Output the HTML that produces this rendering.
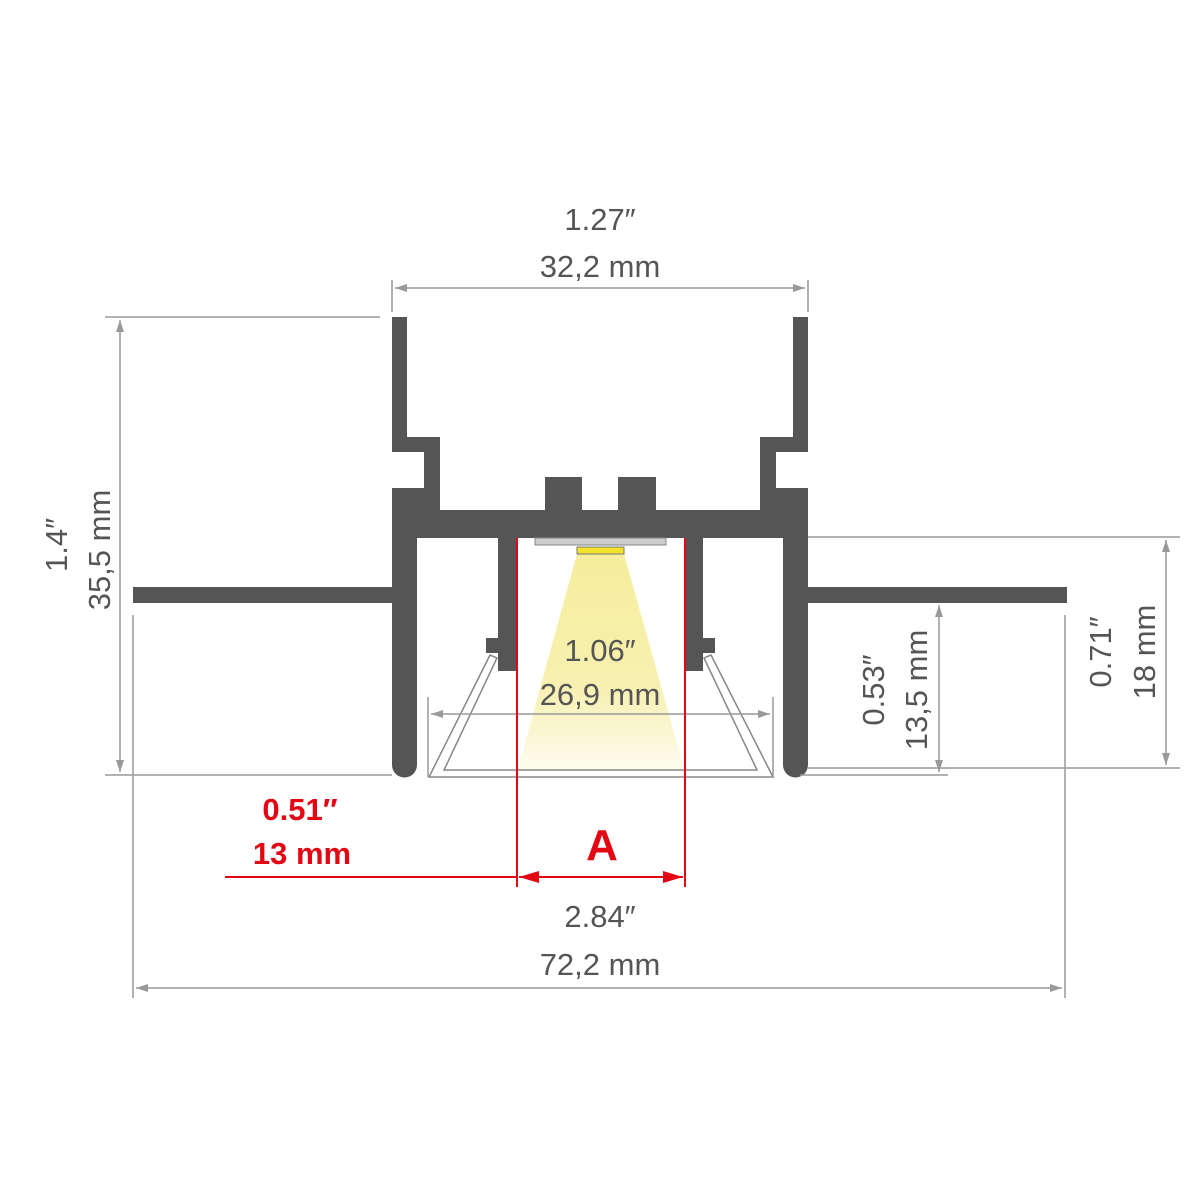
<!DOCTYPE html>
<html><head><meta charset="utf-8"><style>html,body{margin:0;padding:0;background:#fff}svg{display:block}</style></head><body>
<svg width="1200" height="1200" viewBox="0 0 1200 1200" xmlns="http://www.w3.org/2000/svg" font-family="'Liberation Sans', sans-serif">
<defs>
<linearGradient id="beam" x1="0" y1="0" x2="0" y2="1">
<stop offset="0" stop-color="#f6ee9c"/><stop offset="0.6" stop-color="#f7f0b0"/><stop offset="1" stop-color="#fdfcf0"/>
</linearGradient>
<marker id="ag" markerWidth="12" markerHeight="8" refX="12" refY="4" orient="auto-start-reverse" markerUnits="userSpaceOnUse"><path d="M0,0 L12,4 L0,8 Z" fill="#999"/></marker>
<marker id="ar" markerWidth="20" markerHeight="12" refX="20" refY="6" orient="auto-start-reverse" markerUnits="userSpaceOnUse"><path d="M0,0 L20,6 L0,12 Z" fill="#e30613"/></marker>
</defs>
<!-- beam -->
<polygon points="577,554 624,554 685,772 517,772" fill="url(#beam)"/>
<!-- diffuser -->
<polygon points="490,655 497,658 444,770 757,770 704,658 711,655 773,777 429,777" fill="#fff" stroke="#888" stroke-width="1.5"/>
<!-- profile -->
<path d="M392,317 H407 V437 H440 V510 H545 V477 H582 V510 H618 V477 H656 V510 H760 V437 H793 V317 H808 V452 H776 V488 H808 V765 A12.5,12.5 0 0 1 783,765 V538 H703 V638 H715 V653 H703 V671 H685 V538 H517 V671 H498 V653 H486 V638 H498 V538 H417 V765 A12.5,12.5 0 0 1 392,765 V488 H424 V452 H392 Z" fill="#555"/>
<rect x="133" y="587" width="260" height="16" fill="#555"/>
<rect x="807" y="587" width="260" height="16" fill="#555"/>
<!-- LED -->
<rect x="535" y="538" width="131" height="7" fill="#ccc" stroke="#888" stroke-width="1"/>
<rect x="577" y="547" width="47" height="7" fill="#f2e22a" stroke="#777" stroke-width="1"/>
<!-- dimension lines grey -->
<g stroke="#999" stroke-width="1.5" fill="none">
<line x1="392" y1="280" x2="392" y2="312"/><line x1="808" y1="280" x2="808" y2="312"/>
<line x1="395" y1="288" x2="805" y2="288" marker-start="url(#ag)" marker-end="url(#ag)"/>
<line x1="105" y1="317" x2="380" y2="317"/><line x1="105" y1="775" x2="392" y2="775"/>
<line x1="120" y1="320" x2="120" y2="772" marker-start="url(#ag)" marker-end="url(#ag)"/>
<line x1="808" y1="537" x2="1180" y2="537"/><line x1="808" y1="768" x2="1180" y2="768"/>
<line x1="1166" y1="540" x2="1166" y2="765" marker-start="url(#ag)" marker-end="url(#ag)"/>
<line x1="800" y1="775" x2="948" y2="775"/>
<line x1="939" y1="605" x2="939" y2="772" marker-start="url(#ag)" marker-end="url(#ag)"/>
<line x1="133" y1="615" x2="133" y2="998"/><line x1="1065" y1="615" x2="1065" y2="998"/>
<line x1="136" y1="988" x2="1062" y2="988" marker-start="url(#ag)" marker-end="url(#ag)"/>
<line x1="428" y1="697" x2="428" y2="777"/><line x1="773" y1="697" x2="773" y2="777"/>
<line x1="431" y1="714" x2="770" y2="714" marker-start="url(#ag)" marker-end="url(#ag)"/>
</g>
<!-- red -->
<g stroke="#e30613" stroke-width="2" fill="none">
<line x1="517" y1="538" x2="517" y2="887"/><line x1="685" y1="538" x2="685" y2="887"/>
<line x1="225" y1="877" x2="517" y2="877"/>
<line x1="519" y1="877" x2="683" y2="877" marker-start="url(#ar)" marker-end="url(#ar)"/>
</g>
<!-- text -->
<g fill="#555" font-size="31" text-anchor="middle">
<text x="600" y="230">1.27″</text><text x="600" y="277">32,2 mm</text>
<text x="600" y="661">1.06″</text><text x="600" y="705">26,9 mm</text>
<text x="600" y="927">2.84″</text><text x="600" y="975">72,2 mm</text>
<text transform="translate(67,545) rotate(-90)">1.4″</text>
<text transform="translate(110,550) rotate(-90)">35,5 mm</text>
<text transform="translate(884,690) rotate(-90)">0.53″</text>
<text transform="translate(927,690) rotate(-90)">13,5 mm</text>
<text transform="translate(1111,652) rotate(-90)">0.71″</text>
<text transform="translate(1155,652) rotate(-90)">18 mm</text>
</g>
<g fill="#e30613" font-weight="bold" text-anchor="middle">
<text x="300" y="820" font-size="31">0.51″</text>
<text x="302" y="864" font-size="31">13 mm</text>
<text x="602" y="860" font-size="44">A</text>
</g>
</svg>
</body></html>
